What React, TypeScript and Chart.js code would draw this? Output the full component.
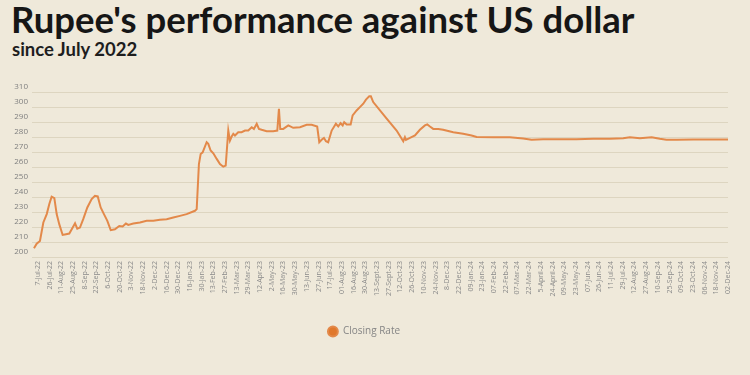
import React, { useEffect, useRef } from "react";
import { Chart, registerables } from "chart.js";

Chart.register(...registerables);

const dateLabels = [
  "7-Jul-22", "26-Jul-22", "11-Aug-22", "25-Aug-22", "8-Sep-22", "22-Sep-22", "6-Oct-22", "20-Oct-22", "3-Nov-22", "18-Nov-22",
  "2-Dec-22", "16-Dec-22", "30-Dec-22", "16-Jan-23", "30-Jan-23", "13-Feb-23", "27-Feb-23", "13-Mar-23", "29-Mar-23", "12-Apr-23",
  "2-May-23", "16-May-23", "30-May-23", "13-Jun-23", "27-Jun-23", "17-Jul-23", "01-Aug-23", "16-Aug-23", "30-Aug-23", "13-Sept-23",
  "27-Sept-23", "12-Oct-23", "26-Oct-23", "10-Nov-23", "24-Nov-23", "8-Dec-23", "22-Dec-23", "09-Jan-24", "23-Jan-24", "07-Feb-24",
  "22-Feb-24", "07-Mar-24", "22-Mar-24", "5-April-24", "24-April-24", "09-May-24", "23-May-24", "07-Jun-24", "26-Jun-24", "11-Jul-24",
  "29-Jul-24", "12-Aug-24", "27-Aug-24", "10-Sep-24", "25-Sep-24", "09-Oct-24", "23-Oct-24", "06-Nov-24", "18-Nov-24", "02-Dec-24",
];

// position along the date axis (in units of tick labels) of each reading
const pos = [
  -0.33, -0.10, 0.18, 0.47, 0.76, 0.98, 1.18, 1.41, 1.61, 1.83,
  2.12, 2.41, 2.69, 2.98, 3.18, 3.37, 3.60, 3.88, 4.23, 4.60,
  4.88, 5.12, 5.37, 5.65, 5.94, 6.23, 6.59, 6.96, 7.25, 7.53,
  7.73, 8.16, 8.73, 9.30, 9.87, 10.44, 11.01, 11.58, 12.15, 12.72,
  13.43, 13.58, 13.77, 13.92, 14.09, 14.43, 14.57, 14.77, 15.00, 15.29,
  15.57, 15.85, 16.06, 16.28, 16.42, 16.57, 16.71, 16.85, 17.13, 17.42,
  17.71, 17.99, 18.28, 18.47, 18.71, 18.90, 19.13, 19.56, 20.12, 20.47,
  20.61, 20.72, 20.98, 21.41, 21.83, 22.41, 22.98, 23.41, 23.88, 24.06,
  24.26, 24.46, 24.63, 24.82, 25.12, 25.48, 25.68, 25.88, 26.06, 26.19,
  26.40, 26.74, 26.91, 27.25, 27.53, 27.82, 28.05, 28.33, 28.47, 28.67,
  29.82, 30.67, 31.24, 31.38, 31.47, 31.81, 32.24, 32.66, 33.09, 33.29,
  33.52, 33.80, 34.23, 34.65, 35.51, 36.36, 37.08, 37.51, 38.93, 40.35,
  41.49, 42.21, 43.20, 44.63, 46.05, 47.47, 48.90, 50.04, 50.61, 51.47,
  52.47, 53.17, 53.74, 54.60, 56.02, 57.45, 59.00,
];

const closingRate = [
  205.8, 208.9, 210.7, 223.0, 228.6, 235.3, 240.2, 239.3, 228.6, 221.9,
  214.7, 215.2, 215.6, 219.6, 222.5, 218.9, 219.6, 225.2, 233.0, 238.6,
  240.8, 240.4, 233.0, 228.6, 224.1, 217.9, 218.5, 220.7, 220.3, 222.3,
  221.4, 222.3, 223.0, 224.1, 224.1, 224.8, 225.2, 226.3, 227.4, 228.6,
  230.8, 231.9, 262.0, 268.7, 269.8, 276.5, 275.4, 271.0, 269.1, 265.4,
  262.0, 260.2, 260.9, 284.3, 277.6, 280.3, 282.1, 281.0, 283.2, 283.2,
  284.3, 284.3, 286.5, 285.4, 288.8, 285.4, 284.8, 283.9, 283.9, 284.3,
  298.8, 285.4, 285.4, 287.7, 286.1, 286.5, 288.1, 288.1, 287.0, 276.5,
  278.1, 279.4, 277.2, 276.5, 284.3, 288.8, 287.0, 289.2, 287.7, 289.9,
  288.4, 288.4, 294.4, 297.7, 299.9, 302.2, 304.9, 307.1, 307.1, 303.3,
  292.2, 284.3, 277.2, 279.9, 278.1, 279.4, 281.0, 284.8, 287.7, 288.4,
  287.0, 285.4, 285.4, 284.8, 283.2, 282.1, 281.0, 280.0, 279.9, 279.9,
  279.0, 278.1, 278.5, 278.5, 278.5, 278.8, 278.8, 279.2, 279.9, 279.2,
  279.9, 278.8, 278.1, 278.1, 278.3, 278.3, 278.3,
];

const yMin = 200;
const yMax = 310;
const yStep = 10;

const BG = "#efe9da";

export default function App() {
  const canvasRef = useRef<HTMLCanvasElement | null>(null);

  useEffect(() => {
    if (!canvasRef.current) return;
    const points = pos.map((p, i) => ({ x: p, y: closingRate[i] }));
    const chart = new Chart(canvasRef.current, {
      type: "line",
      data: {
        datasets: [
          {
            label: "Closing Rate",
            data: points,
            borderColor: "#e3894a",
            backgroundColor: "#e0782c",
            borderWidth: 2,
            pointRadius: 0,
            tension: 0,
            pointStyle: "circle",
          },
        ],
      },
      options: {
        animation: false,
        responsive: false,
        layout: { padding: { top: 92, right: 22, left: 0, bottom: 28.5 } },
        plugins: {
          legend: {
            display: true,
            position: "bottom",
            labels: {
              usePointStyle: true,
              boxWidth: 12,
              boxHeight: 7,
              padding: 10,
              color: "#858585",
              font: { family: "'Open Sans', sans-serif", size: 10 },
            },
          },
          tooltip: { enabled: false },
        },
        scales: {
          x: {
            type: "linear",
            min: -0.5,
            max: 59,
            afterFit: (scale: any) => {
              scale.height = 59.5;
            },
            grid: { display: false, drawTicks: false },
            border: { display: false },
            ticks: {
              stepSize: 1,
              autoSkip: false,
              includeBounds: false,
              maxRotation: 90,
              minRotation: 90,
              padding: 4,
              color: "#8a8a8a",
              font: { family: "'Open Sans', sans-serif", size: 7 },
              callback: (v: any) => {
                const n = Number(v);
                return Number.isInteger(n) && dateLabels[n] !== undefined ? dateLabels[n] : "";
              },
            },
          },
          y: {
            min: yMin,
            max: yMax,
            afterFit: (scale: any) => {
              scale.width = 32;
            },
            grid: { color: "#ddd5c0", lineWidth: 1, drawTicks: false },
            border: { display: false },
            ticks: {
              stepSize: yStep,
              padding: 4,
              labelOffset: -5,
              color: "#808080",
              font: { family: "'Open Sans', sans-serif", size: 8 },
            },
          },
        },
      },
    });
    return () => chart.destroy();
  }, []);

  return (
    <div
      style={{
        position: "absolute",
        left: 0,
        top: 0,
        width: 750,
        height: 375,
        background: BG,
        overflow: "hidden",
      }}
    >
      <div
        style={{
          position: "absolute",
          left: 11,
          top: 1,
          fontFamily: "Lato, sans-serif",
          fontWeight: 700,
          fontSize: 36.5,
          lineHeight: "36px",
          color: "#161616",
          whiteSpace: "nowrap",
        }}
      >
        Rupee's performance against US dollar
      </div>
      <div
        style={{
          position: "absolute",
          left: 12,
          top: 40,
          fontFamily: "Lato, sans-serif",
          fontWeight: 700,
          fontSize: 18.5,
          lineHeight: "18px",
          color: "#1e1e1e",
          whiteSpace: "nowrap",
        }}
      >
        since July 2022
      </div>
      <canvas
        ref={canvasRef}
        width={750}
        height={375}
        style={{ position: "absolute", left: 0, top: 0, width: 750, height: 375 }}
      />
    </div>
  );
}
